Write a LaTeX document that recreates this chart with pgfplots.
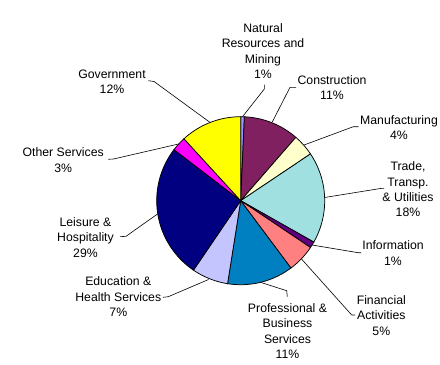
\documentclass[border=0pt]{standalone}
\usepackage{pgfplots}
\pgfplotsset{compat=1.18}
\usepackage{pgfplotstable}
\usepackage{fontspec}
\setmainfont{Liberation Sans}

\definecolor{c0}{RGB}{153,153,255}
\definecolor{c1}{RGB}{128,32,96}
\definecolor{c2}{RGB}{255,255,204}
\definecolor{c3}{RGB}{160,224,224}
\definecolor{c4}{RGB}{96,0,128}
\definecolor{c5}{RGB}{255,128,128}
\definecolor{c6}{RGB}{0,128,192}
\definecolor{c7}{RGB}{196,196,255}
\definecolor{c8}{RGB}{0,0,128}
\definecolor{c9}{RGB}{255,0,255}
\definecolor{c10}{RGB}{255,255,0}

% share of each sector (per cent, as drawn), clockwise from 12 o'clock
\pgfplotstableread{
sector share
NatRes 0.7
Construction 10.7
Manufacturing 4.2
Trade 17.6
Information 1.2
Financial 5.4
Professional 12.7
Education 7.0
Leisure 25.9
Other 2.8
Government 11.8
}\pietable

\xdef\cumang{0}
\pgfplotsforeachungrouped \i in {0,...,10}{%
  \pgfplotstablegetelem{\i}{share}\of\pietable
  \expandafter\xdef\csname pieA\i\endcsname{\cumang}%
  \pgfmathsetmacro\tmpang{\cumang+3.6*\pgfplotsretval}%
  \xdef\cumang{\tmpang}%
  \expandafter\xdef\csname pieB\i\endcsname{\cumang}%
}

\begin{document}
\begin{tikzpicture}[x=1bp,y=1bp,
  lbl/.style={font=\fontsize{12.3}{15.4}\selectfont, align=center, text=black, inner sep=0pt},
  ldr/.style={draw=black, line width=0.6bp}]
\begin{axis}[at={(0,0)}, anchor=south west,
  width=440bp, height=364bp, scale only axis,
  xmin=0, xmax=440, ymin=0, ymax=364, y dir=reverse,
  hide axis, clip=false]
\pgfplotsinvokeforeach{0,...,10}{
  \edef\temp{\noexpand\addplot[draw=black, line width=0.75bp, fill=c#1, samples=40,
     domain=\csname pieA#1\endcsname:\csname pieB#1\endcsname]}
  \temp ({240.7+84*sin(x)},{200.7-84*cos(x)}) -- (240.7,200.7) -- cycle;
}
% leader lines
\draw[ldr] (264.3,84.5) -- (264.3,89) -- (242.5,116.7);
\draw[ldr] (296,87.3) -- (290,87.3) -- (272.3,122);
\draw[ldr] (358.5,126.7) -- (353.3,126.7) -- (304,145);
\draw[ldr] (384,188.3) -- (381.7,188.3) -- (324.5,197.5);
\draw[ldr] (361,252.7) -- (358.3,252.7) -- (312,245);
\draw[ldr] (355,315) -- (351.7,315) -- (301.5,259);
\draw[ldr] (287.3,296.7) -- (286.7,290.7) -- (261,282.5);
\draw[ldr] (163,297.3) -- (168.3,296.7) -- (208.5,279.5);
\draw[ldr] (120,236.7) -- (126,236.3) -- (157.5,214);
\draw[ldr] (108.3,159.3) -- (113.5,159) -- (178.5,144);
\draw[ldr] (148.3,80.7) -- (154,81.5) -- (210,122.4);
% labels
\node[lbl] at (263,51) {Natural\\Resources and\\Mining\\1\%};
\node[lbl] at (332,87.5) {Construction\\11\%};
\node[lbl] at (399,127.5) {Manufacturing\\4\%};
\node[lbl] at (408,189.5) {Trade,\\Transp.\\\& Utilities\\18\%};
\node[lbl] at (393,253) {Information\\1\%};
\node[lbl] at (381.3,315.5) {Financial\\Activities\\5\%};
\node[lbl] at (287.5,331) {Professional \&\\Business\\Services\\11\%};
\node[lbl] at (118.3,296.7) {Education \&\\Health Services\\7\%};
\node[lbl] at (85.5,237.5) {Leisure \&\\Hospitality\\29\%};
\node[lbl] at (63.2,160) {Other Services\\3\%};
\node[lbl] at (112,81.5) {Government\\12\%};
\end{axis}
\pgfresetboundingbox
\useasboundingbox (0,0) rectangle (440,364);
\end{tikzpicture}
\end{document}
